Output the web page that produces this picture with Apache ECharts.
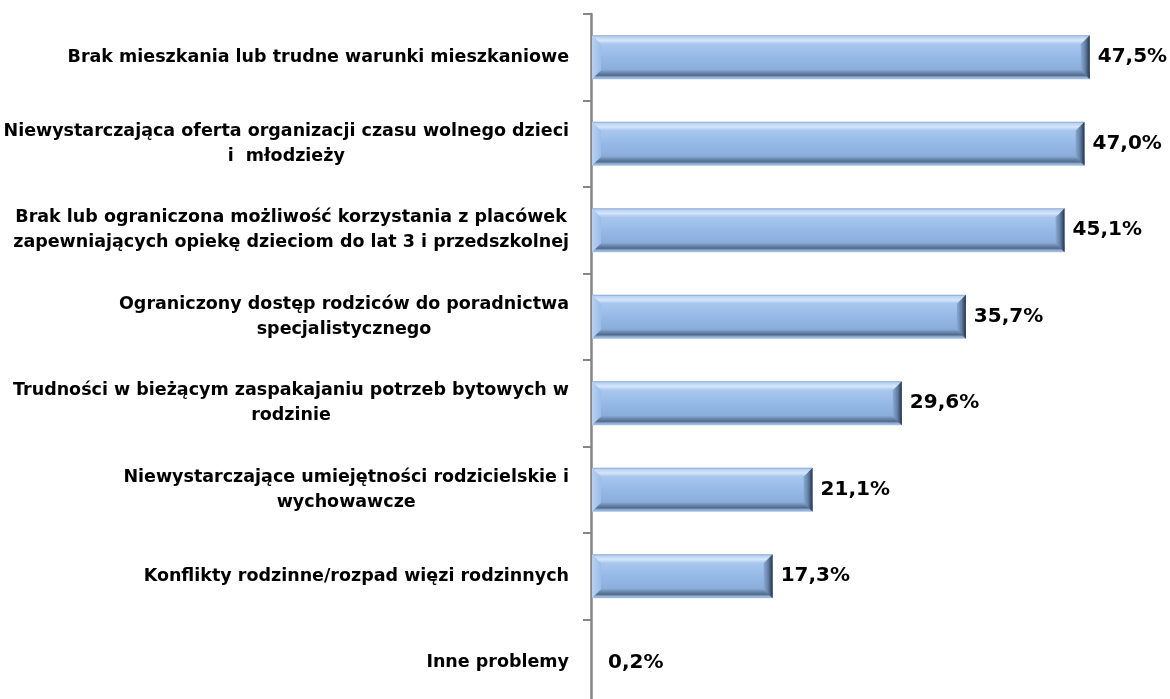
<!DOCTYPE html>
<html>
<head>
<meta charset="utf-8">
<script src="https://cdn.jsdelivr.net/npm/echarts@6/dist/echarts.min.js"></script>
<style>
  html, body { margin: 0; padding: 0; background: #fff; }
  #chart { width: 1170px; height: 699px; }
</style>
</head>
<body>
<div id="chart"></div>
<script>
// kategorie (od góry) i udział w %
var categories = [
  'Brak mieszkania lub trudne warunki mieszkaniowe',
  'Niewystarczająca oferta organizacji czasu wolnego dzieci\ni  młodzieży',
  'Brak lub ograniczona możliwość korzystania z placówek\nzapewniających opiekę dzieciom do lat 3 i przedszkolnej',
  'Ograniczony dostęp rodziców do poradnictwa\nspecjalistycznego',
  'Trudności w bieżącym zaspakajaniu potrzeb bytowych w\nrodzinie',
  'Niewystarczające umiejętności rodzicielskie i\nwychowawcze',
  'Konflikty rodzinne/rozpad więzi rodzinnych',
  'Inne problemy'
];
var values = [47.5, 47.0, 45.1, 35.7, 29.6, 21.1, 17.3, 0.2];
var valueLabels = ['47,5%', '47,0%', '45,1%', '35,7%', '29,6%', '21,1%', '17,3%', '0,2%'];

var chart = echarts.init(document.getElementById('chart'));

function vGrad(stops) {
  return { type: 'linear', x: 0, y: 0, x2: 0, y2: 1, colorStops: stops };
}
function hGrad(stops) {
  return { type: 'linear', x: 0, y: 0, x2: 1, y2: 0, colorStops: stops };
}

// słupek z fazowaniem jak w Excelu
function renderBar(params, api) {
  var val = api.value(0);
  var idx = api.value(1);
  var start = api.coord([0, idx]);
  var end = api.coord([val, idx]);
  var h = api.size([0, 1])[1] * 0.51;
  var x0 = start[0] + 1, x1 = end[0], yc = end[1];
  var y0 = yc - h / 2, y1 = yc + h / 2;
  var w = Math.max(x1 - x0, 0);
  var b = Math.min(9, w / 2);
  var children = [];
  if (w > 3) {
    children.push({
      type: 'rect',
      shape: { x: x0, y: y0, width: w, height: h },
      style: {
        fill: vGrad([
          { offset: 0, color: '#7f9fc9' },
          { offset: 0.04, color: '#b9d3f2' },
          { offset: 0.12, color: '#d4e6fb' },
          { offset: 0.2, color: '#a9c7ed' },
          { offset: 0.5, color: '#95b9e7' },
          { offset: 0.78, color: '#8badda' },
          { offset: 0.85, color: '#6a87ad' },
          { offset: 0.91, color: '#50698a' },
          { offset: 0.95, color: '#8eabd0' },
          { offset: 1, color: '#a8c4e8' }
        ])
      }
    });
    children.push({
      type: 'polygon',
      shape: { points: [[x0, y0], [x0 + b, y0 + b], [x0 + b, y1 - b], [x0, y1]] },
      style: {
        fill: hGrad([
          { offset: 0, color: '#b8d1f1' },
          { offset: 1, color: '#9bbde8' }
        ])
      }
    });
    children.push({
      type: 'polygon',
      shape: { points: [[x1, y0], [x1 - b, y0 + b], [x1 - b, y1 - b], [x1, y1]] },
      style: {
        fill: hGrad([
          { offset: 0, color: '#8aaad3' },
          { offset: 0.5, color: '#6580a6' },
          { offset: 0.85, color: '#3a4b63' },
          { offset: 1, color: '#222d3b' }
        ])
      }
    });
  }
  children.push({
    type: 'text',
    style: {
      text: valueLabels[idx],
      x: x1 + (w > 3 ? 8 : 15),
      y: yc,
      verticalAlign: 'middle',
      align: 'left',
      fill: '#000',
      font: 'bold 20px "DejaVu Sans"'
    }
  });
  return { type: 'group', children: children };
}

var data = values.map(function (v, i) { return [v, i]; });

chart.setOption({
  animation: false,
  backgroundColor: '#fff',
  grid: {
    left: 591,
    right: 54,
    top: 14,
    height: 692,
    outerBoundsMode: 'none'
  },
  xAxis: {
    type: 'value',
    min: 0,
    max: 50,
    show: false
  },
  yAxis: {
    type: 'category',
    inverse: true,
    data: categories,
    axisLine: { show: true, lineStyle: { color: '#868686', width: 2.5 } },
    axisTick: { show: true, length: 8, lineStyle: { color: '#868686', width: 2 } },
    axisLabel: {
      margin: 22,
      align: 'right',
      formatter: function (txt) {
        return txt.split('\n').map(function (l) { return '{c|' + l + '}'; }).join('\n');
      },
      rich: {
        c: {
          align: 'center',
          fontFamily: 'DejaVu Sans',
          fontWeight: 'bold',
          fontSize: 17.5,
          lineHeight: 25,
          color: '#000'
        }
      }
    }
  },
  series: [{
    type: 'custom',
    renderItem: renderBar,
    encode: { x: 0, y: 1 },
    data: data
  }]
});
</script>
</body>
</html>
